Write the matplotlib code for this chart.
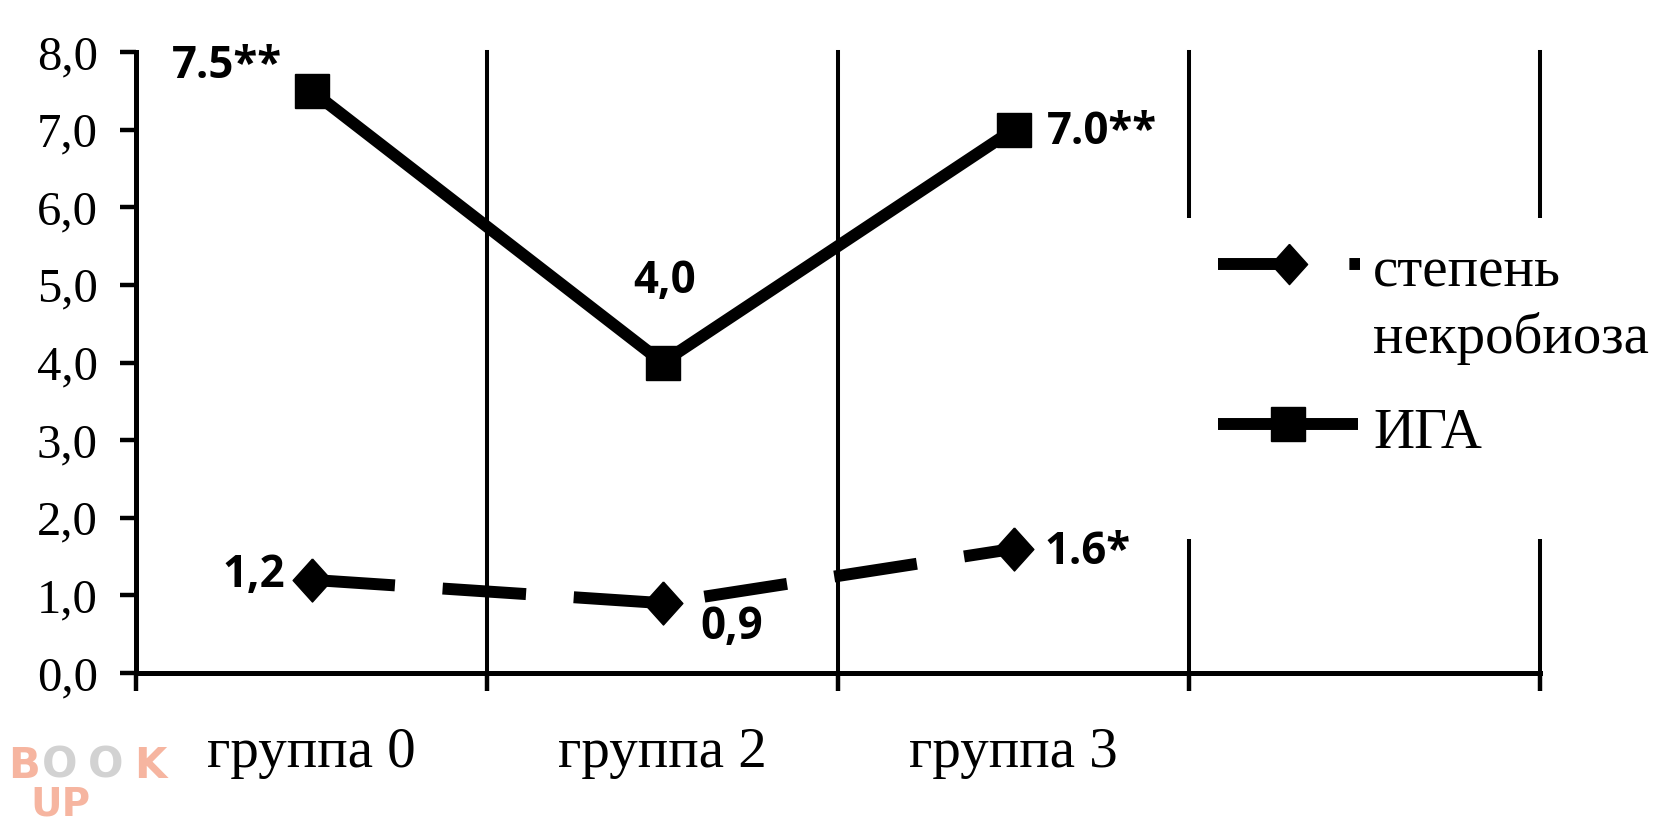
import matplotlib
matplotlib.use('Agg')
import matplotlib.pyplot as plt
from matplotlib.lines import Line2D
from matplotlib.patches import Rectangle
import numpy as np

# ---- data ----
categories = ['группа 0', 'группа 2', 'группа 3']
necro = [1.2, 0.9, 1.6]
iga = [7.5, 4.0, 7.0]
necro_labels = ['1,2', '0,9', '1.6*']
iga_labels = ['7.5**', '4,0', '7.0**']
yticks = [0, 1, 2, 3, 4, 5, 6, 7, 8]
ytick_labels = ['0,0', '1,0', '2,0', '3,0', '4,0', '5,0', '6,0', '7,0', '8,0']
legend_labels = ['степень\nнекробиоза', 'ИГА']

W, H = 1675, 823
fig = plt.figure(figsize=(W / 100, H / 100), dpi=100)
ax = fig.add_axes([136 / W, 1 - 673 / H, (1540 - 136) / W, (673 - 52) / H])

serif = ['Liberation Serif', 'DejaVu Serif']
boldsans = ['Open Sans', 'DejaVu Sans']

n = len(categories) + 1  # one empty category slot on the right
x = np.arange(len(categories))
ax.set_xlim(-0.5, n - 0.5)
ax.set_ylim(0, 8)

diamond = [(0, 1), (0.9, 0), (0, -1), (-0.9, 0), (0, 1)]
LW = 8.6

# lines
ax.plot(x, necro, color='black', lw=LW, linestyle=(0, (7.0, 4.0)),
        dash_capstyle='butt', marker=diamond, markersize=31,
        markerfacecolor='black', markeredgecolor='black', zorder=3, clip_on=False)
ax.plot(x, iga, color='black', lw=LW, solid_capstyle='butt',
        marker='s', markersize=24, markerfacecolor='black',
        markeredgecolor='black', zorder=3, clip_on=False)

# vertical category separators
for b in np.arange(n) + 0.5:
    ax.axvline(b, color='black', lw=2.9, zorder=1, clip_on=False)

# spines and ticks
for s in ['top', 'right']:
    ax.spines[s].set_visible(False)
for s in ['left', 'bottom']:
    ax.spines[s].set_linewidth(3.6)
    ax.spines[s].set_color('black')

ax.set_yticks(yticks)
ax.set_yticklabels(ytick_labels, fontfamily=serif, fontsize=35)
ax.tick_params(axis='y', direction='out', length=11.5, width=3.2, pad=16, colors='black')

ax.set_xticks(np.arange(n + 1) - 0.5)
ax.set_xticklabels([])
ax.tick_params(axis='x', which='major', direction='out', length=13, width=3.2)
ax.set_xticks(x, minor=True)
ax.set_xticklabels(categories, minor=True, fontfamily=serif, fontsize=41)
ax.tick_params(axis='x', which='minor', length=0, pad=39)

# data labels (offsets in points)
lab_font = dict(fontfamily=boldsans, fontweight='bold', fontsize=31.5, color='black')
iga_off = [(-21, 9, 'right'), (1.5, 50, 'center'), (24, -10, 'left')]
necro_off = [(-19, -5, 'right'), (27, -26, 'left'), (22, -11, 'left')]
for xi, yi, t, (dx, dy, ha) in zip(x, iga, iga_labels, iga_off):
    ax.annotate(t, (xi, yi), xytext=(dx, dy), textcoords='offset points',
                ha=ha, va='baseline', annotation_clip=False, **lab_font)
for xi, yi, t, (dx, dy, ha) in zip(x, necro, necro_labels, necro_off):
    ax.annotate(t, (xi, yi), xytext=(dx, dy), textcoords='offset points',
                ha=ha, va='baseline', annotation_clip=False, **lab_font)

# ---- legend (manual, figure pixel coordinates) ----
def fx(px):
    return px / W

def fy(py):
    return 1 - py / H

fig.add_artist(Rectangle((fx(1150), fy(539)), fx(1675) - fx(1150), fy(218) - fy(539),
                         transform=fig.transFigure, facecolor='white',
                         edgecolor='none', zorder=5))
# entry 1: dashed with diamond
fig.add_artist(Line2D([fx(1218), fx(1360)], [fy(264), fy(264)], transform=fig.transFigure,
                      color='black', lw=LW, linestyle=(0, (7.0, 4.0)),
                      dash_capstyle='butt', zorder=6))
fig.add_artist(Line2D([fx(1289)], [fy(264)], transform=fig.transFigure,
                      marker=diamond, markersize=29, color='black', lw=0, zorder=7))
# entry 2: solid with square
fig.add_artist(Line2D([fx(1218), fx(1358)], [fy(424), fy(424)], transform=fig.transFigure,
                      color='black', lw=LW, solid_capstyle='butt', zorder=6))
fig.add_artist(Line2D([fx(1288)], [fy(424)], transform=fig.transFigure,
                      marker='s', markersize=24, color='black', lw=0, zorder=7))

leg1 = legend_labels[0].split('\n')
fig.text(fx(1373), fy(287), leg1[0], fontfamily=serif, fontsize=41, va='baseline',
         ha='left', zorder=8)
fig.text(fx(1373), fy(353), leg1[1], fontfamily=serif, fontsize=41, va='baseline',
         ha='left', zorder=8)
fig.text(fx(1373), fy(448), legend_labels[1], fontfamily=serif, fontsize=41,
         va='baseline', ha='left', zorder=8)

# ---- watermark ----
salmon = '#f6b5a0'
grey = '#d2d2d2'
wm = dict(fontfamily=['DejaVu Sans'], fontweight='bold', fontsize=30, va='baseline')
fig.text(fx(8), fy(778), 'B', color=salmon, **wm)
fig.text(fx(42), fy(778), 'O', color=grey, **wm)
fig.text(fx(88), fy(778), 'O', color=grey, **wm)
fig.text(fx(134), fy(778), 'K', color=salmon, **wm)
fig.text(fx(30), fy(815), 'UP', color=salmon, fontfamily=['DejaVu Sans'],
         fontweight='bold', fontsize=28, va='baseline')

fig.savefig('out.png', dpi=100, facecolor='white')
